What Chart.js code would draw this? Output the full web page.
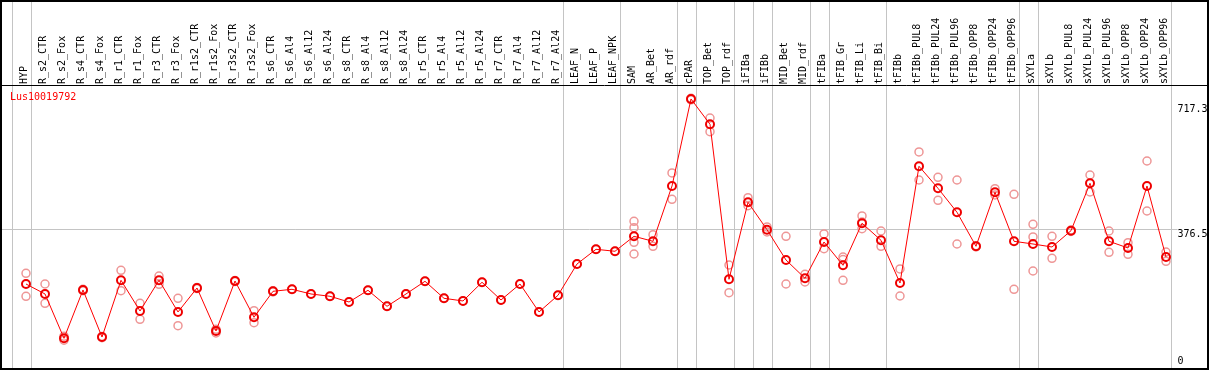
<!DOCTYPE html>
<html>
<head>
<meta charset="utf-8">
<script src="https://cdn.jsdelivr.net/npm/chart.js@4/dist/chart.umd.min.js"></script>
<style>
html,body{margin:0;padding:0;background:#fff;}
canvas{display:block;}
</style>
</head>
<body>
<canvas id="c" width="1209" height="370"></canvas>
<script>
const geneId = 'Lus10019792';
const categories = ['HYP','R_s2_CTR','R_s2_Fox','R_s4_CTR','R_s4_Fox','R_r1_CTR','R_r1_Fox','R_r3_CTR','R_r3_Fox','R_r1s2_CTR','R_r1s2_Fox','R_r3s2_CTR','R_r3s2_Fox','R_s6_CTR','R_s6_Al4','R_s6_Al12','R_s6_Al24','R_s8_CTR','R_s8_Al4','R_s8_Al12','R_s8_Al24','R_r5_CTR','R_r5_Al4','R_r5_Al12','R_r5_Al24','R_r7_CTR','R_r7_Al4','R_r7_Al12','R_r7_Al24','LEAF_N','LEAF_P','LEAF_NPK','SAM','AR_Bet','AR_rdf','cPAR','TOP_Bet','TOP_rdf','iFIBa','iFIBb','MID_Bet','MID_rdf','tFIBa','tFIB_Gr','tFIB_Li','tFIB_Bi','tFIBb','tFIBb_PUL8','tFIBb_PUL24','tFIBb_PUL96','tFIBb_OPP8','tFIBb_OPP24','tFIBb_OPP96','sXYLa','sXYLb','sXYLb_PUL8','sXYLb_PUL24','sXYLb_PUL96','sXYLb_OPP8','sXYLb_OPP24','sXYLb_OPP96'];
const meanValues = [226.4,199.2,78.3,210.1,81.8,236.5,152.8,236.5,150.1,215.5,98.2,234.6,135.6,206.5,212.0,199.2,192.9,177.3,209.3,165.6,199.2,233.8,187.4,180.1,231.1,182.8,226.4,150.1,195.6,281.0,321.1,315.7,356.6,342.9,493.8,731.2,662.2,239.3,449.3,374.6,291.9,242.0,341.0,277.5,392.1,345.7,229.2,547.6,487.5,422.1,329.3,476.6,342.9,335.6,327.4,371.9,501.2,342.9,324.7,493.8,300.1];
const replicateValues = [
  [255.6,192.9],[226.4,173.8],[84,73],[212,208],[83,80],[263.8,208.2],[173.8,130.1],[248.3,225.6],[187.4,112.7],[217,214],
  [103,93],[236,233],[153.6,120.9],[208,205],[212.0],[199.2],[192.9],[177.3],[209.3],[165.6],
  [199.2],[233.8],[187.4],[180.1],[231.1],[182.8],[226.4],[150.1],[195.6],[281.0],
  [321.1],[315.7],[397.5,380.1,340.2,308.3],[360.9,329.3],[529.3,457.5],[733,729],[679.3,642.0],[278.3,202.7],[461.9,440.1],[382.0,368.3],
  [356.6,226.4],[252.9,231.9],[362.9,322.8],[300.1,293,236.5],[412.0,395.6,377.3],[371.0,329.3],[267.4,193.7],[586.6,510.2],[517.6,454.8],[510.2,335.6],
  [331,328],[486.5,469.3],[471.2,212.0],[389.3,354.7,261.9],[356.6,296.6],[374,370],[523.8,477.4],[371.0,312.9],[339.1,307.5],[562.0,425.6],
  [313.7,288.4]
];
const yTickValues = [0, 376.5, 717.3];
const yGridValues = [376.5];
const separatorAfter = [-1,0,28,31,34,35,37,38,39,41,42,45,52,53,60];

const replicatePoints = [];
replicateValues.forEach((vals, i) => vals.forEach(v => replicatePoints.push({x: categories[i], y: v})));

const FONT = '10px "DejaVu Sans Mono", monospace';
const GRID = '#c4c4c4';

const decor = {
  id: 'decor',
  beforeDraw(chart) {
    const ctx = chart.ctx, W = chart.width, H = chart.height;
    const xs = chart.scales.x, ys = chart.scales.y;
    ctx.save();
    ctx.fillStyle = '#fff';
    ctx.fillRect(0, 0, W, H);
    ctx.strokeStyle = GRID;
    ctx.lineWidth = 1;
    separatorAfter.forEach(i => {
      const x = Math.round(xs.getPixelForValue(i) + 4.5) + 0.5;
      ctx.beginPath(); ctx.moveTo(x, 0); ctx.lineTo(x, H); ctx.stroke();
    });
    yGridValues.forEach(v => {
      const y = Math.round(ys.getPixelForValue(v)) + 0.5;
      ctx.beginPath(); ctx.moveTo(2, y); ctx.lineTo(xs.right + 2, y); ctx.stroke();
    });
    ctx.restore();
  },
  afterDraw(chart) {
    const ctx = chart.ctx, W = chart.width, H = chart.height;
    const xs = chart.scales.x, ys = chart.scales.y;
    ctx.save();
    ctx.font = FONT;
    ctx.fillStyle = '#000';
    categories.forEach((c, i) => {
      const x = xs.getPixelForValue(i) - 1.5;
      ctx.save();
      ctx.translate(x, 84);
      ctx.rotate(-Math.PI / 2);
      ctx.textAlign = 'left';
      ctx.textBaseline = 'middle';
      ctx.fillText(c, 0, 0);
      ctx.restore();
    });
    ctx.textAlign = 'left';
    ctx.textBaseline = 'top';
    yTickValues.forEach(v => {
      let y = ys.getPixelForValue(v);
      y = Math.min(y, ys.bottom - 11);
      ctx.fillText(String(v), xs.right + 2, y);
    });
    ctx.fillStyle = '#ff0000';
    ctx.textBaseline = 'middle';
    ctx.fillText(geneId, 10, 97);
    ctx.strokeStyle = '#000';
    ctx.lineWidth = 1;
    ctx.beginPath(); ctx.moveTo(0, 85.5); ctx.lineTo(W, 85.5); ctx.stroke();
    ctx.lineWidth = 2;
    ctx.strokeRect(1, 1, W - 2, H - 2);
    ctx.restore();
  }
};

new Chart(document.getElementById('c'), {
  data: {
    labels: categories,
    datasets: [
      {
        type: 'line',
        data: meanValues,
        borderColor: '#ff0000',
        borderWidth: 1,
        pointRadius: 4,
        pointBorderWidth: 2,
        pointBorderColor: '#ee0000',
        pointBackgroundColor: 'rgba(0,0,0,0)',
        tension: 0,
        order: 0
      },
      {
        type: 'scatter',
        data: replicatePoints,
        showLine: false,
        pointRadius: 4,
        pointBorderWidth: 1.5,
        pointBorderColor: 'rgb(238,150,150)',
        pointBackgroundColor: 'rgba(0,0,0,0)',
        order: 1
      }
    ]
  },
  options: {
    responsive: false,
    animation: false,
    devicePixelRatio: 1,
    layout: { autoPadding: false, padding: { left: 16.5, right: 33.5, top: 86, bottom: 3 } },
    plugins: { legend: { display: false }, tooltip: { enabled: false } },
    scales: {
      x: { type: 'category', offset: true, display: false },
      y: { type: 'linear', min: 0, max: 766.6, display: false }
    }
  },
  plugins: [decor]
});
</script>
</body>
</html>
